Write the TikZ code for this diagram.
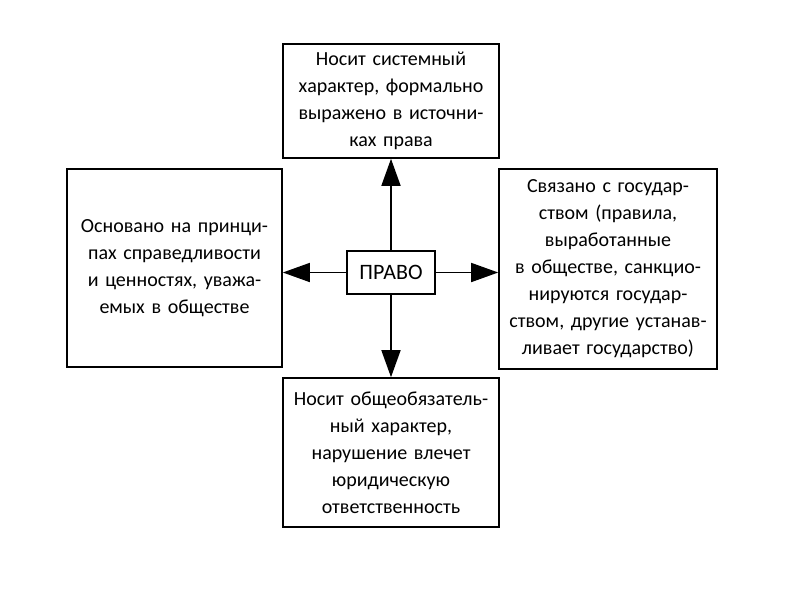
\documentclass[tikz,border=0pt]{standalone}
\usepackage{fontspec}
\setmainfont{Carlito}
\usetikzlibrary{arrows.meta}
\begin{document}
\begin{tikzpicture}[x=1pt,y=-1pt,
  box/.style={draw,line width=1.6pt,align=center,inner sep=0pt,font=\fontsize{20}{27}\selectfont},
  arr/.style={line width=1.6pt,-{Triangle[length=27pt,width=19pt]}}]
\useasboundingbox (0,0) rectangle (800,600);
\node[box,minimum width=216pt,minimum height=114pt,text width=212pt] (top) at (391,101) {Носит системный\\характер, формально\\выражено в источни-\\ках права};
\node[box,minimum width=215pt,minimum height=198pt,text width=212pt] (left) at (174.5,268) {Основано на принци-\\пах справедливости\\и ценностях, уважа-\\емых в обществе};
\node[box,minimum width=218pt,minimum height=200pt,text width=214pt] (right) at (608,269) {Связано с государ-\\ством (правила,\\выработанные\\в обществе, санкцио-\\нируются государ-\\ством, другие устанав-\\ливает государство)};
\node[box,minimum width=216pt,minimum height=149pt,text width=212pt] (bottom) at (391,452.5) {Носит общеобязатель-\\ный характер,\\нарушение влечет\\юридическую\\ответственность};
\node[box,minimum width=88pt,minimum height=43pt,font=\fontsize{22}{27}\selectfont] (c) at (391,272.5) {ПРАВО};
\draw[arr] (c.north) -- (c.north |- top.south);
\draw[arr] (c.south) -- (c.south |- bottom.north);
\draw[arr] (c.west) -- (c.west -| left.east);
\draw[arr] (c.east) -- (c.east -| right.west);
\end{tikzpicture}
\end{document}
